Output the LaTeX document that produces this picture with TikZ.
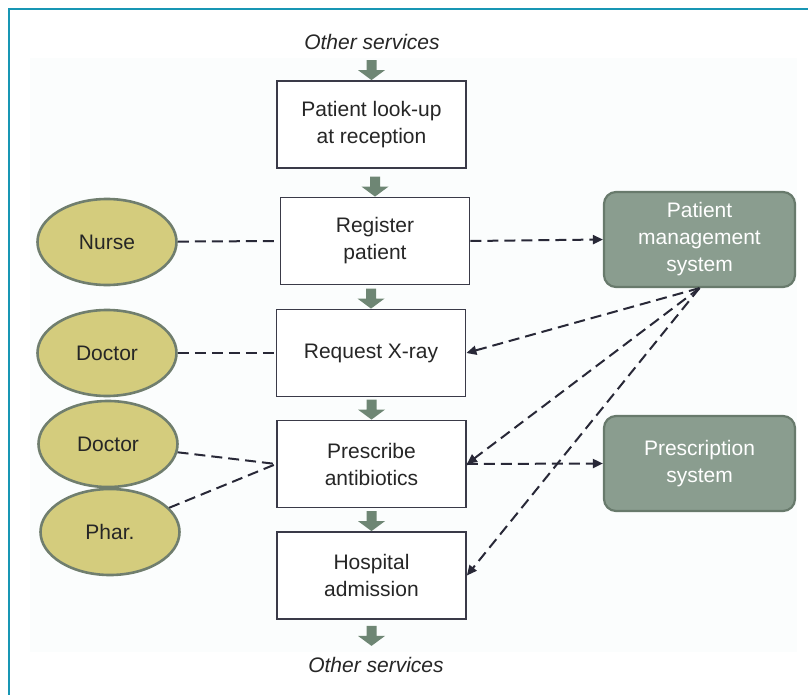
\documentclass[tikz,border=0pt]{standalone}
\usepackage{fontspec}
\setmainfont{Liberation Sans}
\usetikzlibrary{shapes.geometric,arrows.meta}
\definecolor{teal1}{RGB}{24,150,180}
\definecolor{olive1}{RGB}{212,204,125}
\definecolor{olivebd}{RGB}{112,126,110}
\definecolor{sysfill}{RGB}{138,157,143}
\definecolor{sysbd}{RGB}{104,122,108}
\definecolor{linec}{RGB}{40,40,55}
\definecolor{boxbd}{RGB}{58,58,72}
\definecolor{arrfill}{RGB}{110,134,116}
\definecolor{panel}{RGB}{251,253,253}
\tikzset{
  txt/.style={font=\fontsize{21}{27}\selectfont, align=center, text=black!85},
  procbox/.style={txt, draw=boxbd, line width=1.8pt, fill=white, minimum width=189pt, minimum height=87pt, inner sep=0pt},
  actor/.style={txt, ellipse, draw=olivebd, line width=2.6pt, fill=olive1, minimum width=139pt, minimum height=86pt, inner sep=0pt},
  sysbox/.style={txt, text=white, rounded corners=12pt, draw=sysbd, line width=2.2pt, fill=sysfill, minimum width=191pt, minimum height=95pt, inner sep=0pt},
  link/.style={draw=linec, line width=2pt, dash pattern=on 11pt off 6pt},
  flow/.style={link, -{Triangle[length=10pt,width=9pt]}},
  pics/darrow/.style={code={
    \fill[arrfill] (-5,-20) -- (5,-20) -- (5,-10) -- (13.5,-10) -- (0,0) -- (-13.5,-10) -- (-5,-10) -- cycle;}}
}
\begin{document}
\begin{tikzpicture}[x=1pt,y=-1pt]
\useasboundingbox (0,0) rectangle (808,695);
\fill[white] (0,0) rectangle (808,695);
\fill[panel] (30,58) rectangle (797,652);
\draw[teal1, line width=2.6pt] (9,695) -- (9,9) -- (808,9);

\node[txt, font=\fontsize{21}{27}\selectfont\itshape] (top) at (372,42) {Other services};
\node[procbox] (b1) at (371.5,124.5) {Patient look-up\\at reception};
\node[procbox] (b2) at (375,241) {Register\\patient};
\node[procbox] (b3) at (371,353) {Request X-ray};
\node[procbox] (b4) at (371.5,464) {Prescribe\\antibiotics};
\node[procbox] (b5) at (371.5,575.5) {Hospital\\admission};
\node[txt, font=\fontsize{21}{27}\selectfont\itshape] (bot) at (376,665) {Other services};

\pic at (b1.north) {darrow};
\pic at (b2.north) {darrow};
\pic at (b3.north) {darrow};
\pic at (b4.north) {darrow};
\pic at (b5.north) {darrow};
\pic at ([yshift=-26pt]b5.south) {darrow};

\node[actor] (nurse) at (107,242) {Nurse};
\node[actor] (doc1) at (107,353) {Doctor};
\node[actor] (doc2) at (108,444) {Doctor};
\node[actor] (phar) at (110,532) {Phar.};

\node[sysbox] (pms) at (699.5,239.5) {Patient\\management\\system};
\node[sysbox] (prs) at (699.5,463.5) {Prescription\\system};

\draw[link] (nurse) -- (b2.west);
\draw[link] (doc1) -- (b3.west);
\draw[link] (doc2) -- (b4.west);
\draw[link] (phar) -- (b4.west);

\draw[flow] (b2.east) -- (pms.west);
\draw[flow] (pms.south) -- (b3.east);
\draw[flow] (pms.south) -- (b4.east);
\draw[flow] (pms.south) -- (b5.east);
\draw[flow] (b4.east) -- (prs.west);
\end{tikzpicture}
\end{document}
